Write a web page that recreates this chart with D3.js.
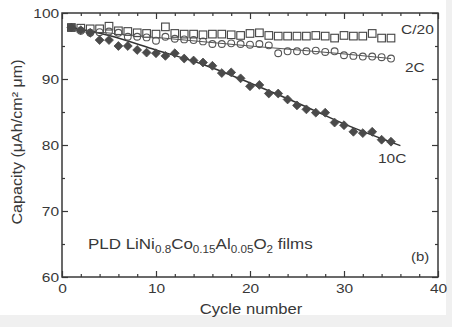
<!DOCTYPE html>
<html><head><meta charset="utf-8">
<script src="https://cdn.jsdelivr.net/npm/d3@7"></script>
<style>body{margin:0;background:#fff;}svg{display:block;}</style>
</head><body>
<script>
const cycles = d3.range(1, 36);
const c20 = [97.8,97.7,97.6,97.6,98.0,97.3,97.2,97.0,96.9,96.8,97.9,96.9,96.8,96.8,96.7,96.8,96.8,96.7,96.6,96.9,97.0,96.6,96.5,96.5,96.5,96.5,96.6,96.5,96.2,96.6,96.5,96.5,96.9,96.2,96.2];
const c2 = [97.8,97.3,97.0,97.1,97.2,97.0,96.4,96.4,96.3,95.8,96.4,96.1,96.0,95.9,95.7,95.3,95.3,95.4,95.3,95.2,95.3,95.1,93.9,94.2,94.2,94.2,94.3,94.1,94.2,93.6,93.5,93.4,93.4,93.3,93.1];
const c10 = [97.8,97.4,97.0,95.9,95.9,95.0,95.0,94.4,94.0,93.9,93.5,93.9,93.1,92.8,92.5,92.0,90.9,91.0,90.1,88.9,89.1,87.8,87.8,86.9,86.0,85.4,84.9,84.9,83.4,83.0,82.0,81.8,82.0,80.8,80.5];
const fit2Cx = [1,10,20,30,35];
const fit2Cy = [97.5,96.3,95.0,93.8,93.1];
const fit10Cx = [1,5,10,15,20,25,30,36];
const fit10Cy = [97.8,96.6,94.4,92.2,89.4,86.4,83.2,79.9];
const xTicks = [0,10,20,30,40];
const yTicks = [60,70,80,90,100];

const W = 452, H = 327, SX = 1.15;
const svg = d3.select("body").append("svg").attr("width", W).attr("height", H)
  .style("font-family", "'Liberation Sans', Arial, sans-serif");
svg.append("rect").attr("width", W).attr("height", H).attr("fill", "#f0f0f0");
svg.append("rect").attr("width", W - 6).attr("height", H - 12).attr("fill", "#fff");

const x = d3.scaleLinear().domain([0, 40]).range([62, 438]);
const y = d3.scaleLinear().domain([60, 100]).range([277, 13]);
const ink = "#383838";

function addAxis(gen, tr, vals, size, labels) {
  const g = svg.append("g").attr("transform", tr)
    .call(gen.tickValues(vals).tickSize(size).tickFormat(labels ? d3.format("d") : ""));
  g.select(".domain").remove();
  g.selectAll("line").attr("stroke", ink).attr("stroke-width", 1.2);
  g.selectAll("text").attr("fill", ink).style("font-size", "13.5px").attr("transform", `scale(${SX},1)`);
  return g;
}
const xMinor = d3.range(0, 41, 2).filter(v => v % 10 !== 0);
const yMinor = d3.range(60, 101, 5).filter(v => v % 10 !== 0);
let gb = addAxis(d3.axisBottom(x), `translate(0,${y(60)})`, xTicks, -6, true);
gb.selectAll("text").attr("y", 6);
addAxis(d3.axisBottom(x), `translate(0,${y(60)})`, xMinor, -3, false);
addAxis(d3.axisTop(x), `translate(0,${y(100)})`, xTicks, -6, false);
addAxis(d3.axisTop(x), `translate(0,${y(100)})`, xMinor, -3, false);
let gl = addAxis(d3.axisLeft(y), `translate(${x(0)},0)`, yTicks, -6, true);
gl.selectAll("text").attr("x", -2.5);
addAxis(d3.axisLeft(y), `translate(${x(0)},0)`, yMinor, -3, false);
addAxis(d3.axisRight(y), `translate(${x(40)},0)`, yTicks, -6, false);
addAxis(d3.axisRight(y), `translate(${x(40)},0)`, yMinor, -3, false);

svg.append("rect").attr("x", x(0)).attr("y", y(100))
  .attr("width", x(40) - x(0)).attr("height", y(60) - y(100))
  .attr("fill", "none").attr("stroke", ink).attr("stroke-width", 1.5);

const line = d3.line().x(d => x(d[0])).y(d => y(d[1])).curve(d3.curveMonotoneX);
svg.append("path").datum(d3.zip(fit2Cx, fit2Cy)).attr("d", line)
  .attr("fill", "none").attr("stroke", "#555").attr("stroke-width", 1);
svg.append("path").datum(d3.zip(fit10Cx, fit10Cy)).attr("d", line)
  .attr("fill", "none").attr("stroke", "#333").attr("stroke-width", 1.5);

svg.append("g").selectAll("rect").data(d3.zip(cycles, c20)).join("rect")
  .attr("x", d => x(d[0]) - 3.8).attr("y", d => y(d[1]) - 3.8)
  .attr("width", 7.6).attr("height", 7.6)
  .attr("fill", (d, i) => i === 0 ? "#444" : "#fff").attr("fill-opacity", 0.85)
  .attr("stroke", "#444").attr("stroke-width", 1.1);
svg.append("g").selectAll("circle").data(d3.zip(cycles, c2)).join("circle")
  .attr("cx", d => x(d[0])).attr("cy", d => y(d[1])).attr("r", 3.4)
  .attr("fill", "none").attr("stroke", "#555").attr("stroke-width", 1.1);
const diamond = d3.symbol().type(d3.symbolDiamond2).size(50);
svg.append("g").selectAll("path").data(d3.zip(cycles, c10)).join("path")
  .attr("transform", d => `translate(${x(d[0])},${y(d[1])})`)
  .attr("d", diamond).attr("fill", "#4a4a4a").attr("stroke", "#4a4a4a").attr("stroke-width", 0.8);

const lab = (t, px, py, fs, anchor) => svg.append("text")
  .attr("transform", `translate(${px},${py}) scale(${SX},1)`)
  .attr("text-anchor", anchor || "start")
  .attr("fill", ink).style("font-size", (fs || 13.5) + "px").text(t);
lab("C/20", 401, 34);
lab("2C", 405, 72);
lab("10C", 378, 163);
lab("(b)", 411, 261, 13);
lab("Cycle number", 251, 314, 14.5, "middle");
svg.append("text").attr("transform", `translate(22,142) rotate(-90) scale(${SX},1)`).attr("text-anchor", "middle")
  .attr("fill", ink).style("font-size", "14px")
  .text("Capacity (\u03bcAh/cm\u00b2 \u03bcm)");

const ann = svg.append("text").attr("transform", `translate(88,249) scale(1.17,1)`)
  .attr("fill", ink).style("font-size", "14.5px");
const parts = [["PLD LiNi", 0], ["0.8", 1], ["Co", 0], ["0.15", 1], ["Al", 0], ["0.05", 1], ["O", 0], ["2", 1], [" films", 0]];
parts.forEach(([t, sub], i) => {
  const prev = i > 0 ? parts[i - 1][1] : 0;
  const ts = ann.append("tspan").text(t).attr("dy", sub && !prev ? 4 : (!sub && prev ? -4 : 0));
  if (sub) ts.style("font-size", "10px");
});
</script>
</body></html>
